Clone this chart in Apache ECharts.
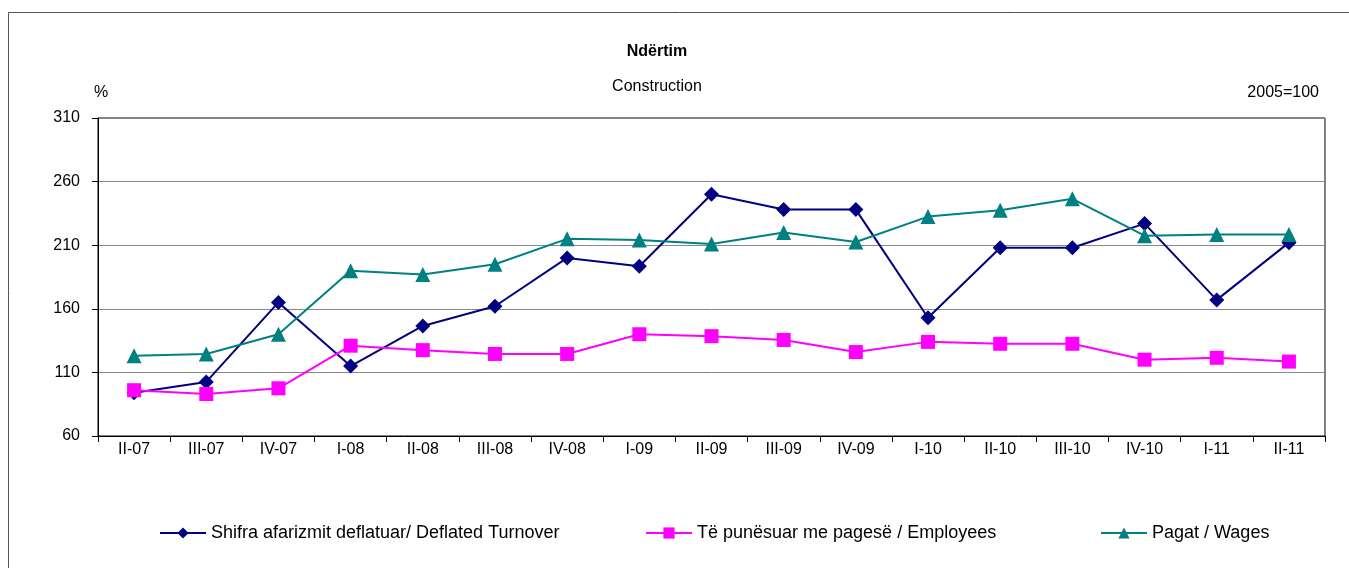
<!DOCTYPE html>
<html>
<head>
<meta charset="utf-8">
<script src="https://cdn.jsdelivr.net/npm/echarts@6/dist/echarts.min.js"></script>
<style>
html, body { margin: 0; padding: 0; background: #fff; }
#chart { width: 1349px; height: 568px; }
</style>
</head>
<body>
<div id="chart"></div>
<script>
var quarters = ["II-07", "III-07", "IV-07", "I-08", "II-08", "III-08", "IV-08", "I-09", "II-09",
  "III-09", "IV-09", "I-10", "II-10", "III-10", "IV-10", "I-11", "II-11"];
var turnover = [94, 102.5, 165, 115, 146.5, 162, 200, 193.5, 250, 238, 238, 153, 208, 208, 227, 167, 212];
var employees = [96, 93, 97.5, 131, 127.5, 124.5, 124.5, 140, 138.5, 135.5, 126, 134, 132.5, 132.5, 120, 121.5, 118.5];
var wages = [123, 124.5, 140, 190, 187, 195, 215, 214, 211, 220, 212.5, 232.5, 237.5, 246.5, 217.5, 218.5, 218.5];
var seriesNames = ["Shifra afarizmit deflatuar/ Deflated Turnover", "Të punësuar me pagesë / Employees", "Pagat / Wages"];

var narrow = "'Liberation Sans Narrow', 'Arial Narrow', 'Liberation Sans', sans-serif";
var chart = echarts.init(document.getElementById("chart"));

function legendFor(name, left) {
  return {
    data: [name],
    left: left,
    top: 519,
    itemWidth: 46,
    itemHeight: 14,
    itemGap: 4,
    textStyle: { fontFamily: "'Liberation Sans', Arial, sans-serif", fontSize: 18, color: "#000" }
  };
}

chart.setOption({
  animation: false,
  backgroundColor: "#fff",
  graphic: [{
    type: "rect",
    shape: { x: 8.5, y: 12.5, width: 1400, height: 600 },
    style: { fill: "none", stroke: "#555", lineWidth: 1 }
  }, {
    type: "text", left: 94, top: 85,
    style: { text: "%", font: "16px " + narrow, fill: "#000" }
  }, {
    type: "text", right: 30, top: 85,
    style: { text: "2005=100", font: "16px " + narrow, fill: "#000" }
  }],
  title: {
    text: "Ndërtim",
    subtext: "Construction",
    left: 652,
    textAlign: "center",
    top: 39,
    itemGap: 19,
    textStyle: { fontFamily: narrow, fontSize: 16, fontWeight: "bold", color: "#000" },
    subtextStyle: { fontFamily: narrow, fontSize: 16, color: "#000" }
  },
  legend: [
    legendFor(seriesNames[0], 154),
    legendFor(seriesNames[1], 640),
    legendFor(seriesNames[2], 1095)
  ],
  grid: {
    left: 98, right: 24, top: 118, bottom: 132,
    show: true, borderColor: "#000", borderWidth: 1
  },
  xAxis: {
    type: "category",
    data: quarters,
    boundaryGap: true,
    axisLine: { lineStyle: { color: "#000", width: 1 } },
    axisTick: { show: true, length: 6, lineStyle: { color: "#000" } },
    axisLabel: { fontFamily: narrow, fontSize: 16, color: "#000", margin: 6 }
  },
  yAxis: {
    type: "value",
    min: 60, max: 310, interval: 50,
    axisLine: { show: true, lineStyle: { color: "#000", width: 1 } },
    axisTick: { show: true, length: 6, lineStyle: { color: "#000" } },
    axisLabel: { fontFamily: narrow, fontSize: 16, color: "#000", margin: 18 },
    splitLine: { lineStyle: { color: "#888", width: 1 } }
  },
  series: [{
    name: seriesNames[0],
    type: "line",
    data: turnover,
    symbol: "diamond",
    symbolSize: 15,
    itemStyle: { color: "#000080" },
    lineStyle: { color: "#000080", width: 2 }
  }, {
    name: seriesNames[1],
    type: "line",
    data: employees,
    symbol: "rect",
    symbolSize: 14,
    itemStyle: { color: "#FF00FF" },
    lineStyle: { color: "#FF00FF", width: 2 }
  }, {
    name: seriesNames[2],
    type: "line",
    data: wages,
    symbol: "triangle",
    symbolSize: 15,
    itemStyle: { color: "#008080" },
    lineStyle: { color: "#008080", width: 2 }
  }]
});
</script>
</body>
</html>
